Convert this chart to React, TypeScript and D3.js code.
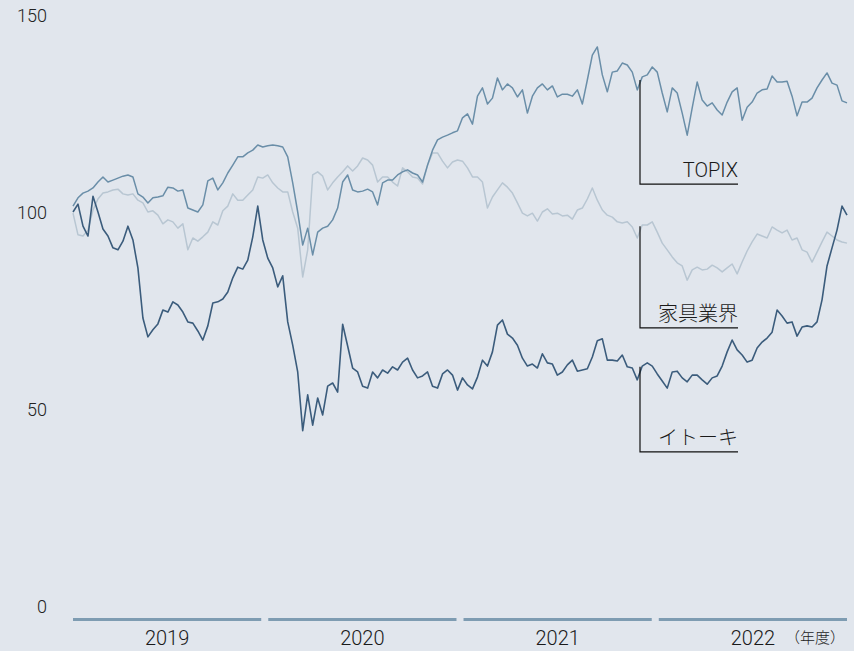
import * as d3 from 'd3';

const years = ['2019', '2020', '2021', '2022'];
const yTicks = [0, 50, 100, 150];

// weekly-ish index values, fiscal 2019 (Apr) to fiscal 2022 (Mar), start = 100
const topix = [
  101.5, 103.6, 104.8, 105.3, 106.1, 107.6, 108.9, 107.6, 108.1, 108.6,
  109.1, 109.4, 108.9, 104.6, 103.8, 102.3, 103.6, 103.8, 104.1, 106.3,
  106.1, 105.3, 105.6, 101.0, 100.5, 100.0, 101.8, 107.9, 108.6, 105.6,
  107.4, 109.9, 111.9, 114.0, 114.0, 115.0, 115.7, 117.0, 116.5, 116.8,
  117.0, 116.8, 116.5, 114.0, 107.4, 100.0, 91.6, 95.9, 89.1, 94.9,
  95.9, 96.4, 98.0, 101.0, 107.6, 109.4, 105.6, 105.1, 105.3, 105.8,
  105.1, 101.8, 107.4, 108.1, 108.1, 109.4, 110.2, 110.7, 109.9, 109.4,
  107.6, 111.9, 115.7, 118.3, 119.0, 119.5, 120.1, 120.6, 123.9, 124.9,
  122.3, 129.4, 131.5, 127.4, 128.9, 134.0, 131.0, 132.5, 131.5, 129.2,
  131.0, 125.1, 129.4, 131.5, 132.5, 131.0, 132.0, 129.2, 129.9, 129.9,
  129.4, 131.0, 127.4, 133.5, 139.8, 141.9, 134.8, 130.5, 135.5, 135.8,
  137.8, 137.3, 135.5, 131.0, 134.3, 134.8, 136.8, 135.5, 130.2, 125.4,
  131.5, 130.2, 125.1, 119.5, 126.4, 133.0, 128.4, 126.9, 127.7, 125.9,
  124.6, 127.9, 130.5, 131.5, 123.3, 126.6, 127.9, 130.2, 131.0, 131.2,
  134.5, 133.0, 133.0, 133.2, 129.4, 124.4, 127.9, 127.9, 128.9, 131.5,
  133.5, 135.3, 132.7, 132.2, 128.2, 127.7,
];

const furniture = [
  99.7, 94.2, 93.9, 95.4, 100.5, 103.3, 104.8, 105.1, 105.6, 105.8,
  104.6, 104.3, 104.6, 103.0, 102.3, 100.0, 100.3, 99.2, 97.0, 98.0,
  97.5, 95.9, 97.0, 90.4, 93.4, 92.6, 93.7, 94.9, 97.5, 96.7,
  100.3, 101.5, 104.6, 103.0, 103.0, 104.3, 105.6, 108.9, 108.6, 109.4,
  107.4, 106.1, 105.1, 105.1, 100.0, 95.9, 83.5, 90.4, 109.4, 110.2,
  109.1, 105.6, 107.4, 108.9, 110.2, 111.7, 110.4, 111.7, 113.7, 113.2,
  111.9, 107.6, 108.9, 108.9, 107.6, 106.6, 111.2, 110.2, 108.9, 108.6,
  107.1, 111.9, 115.0, 115.0, 112.9, 111.2, 112.7, 113.2, 112.9, 111.2,
  108.9, 108.9, 107.6, 101.0, 103.8, 105.6, 107.4, 106.3, 104.8, 102.3,
  99.7, 99.0, 99.7, 97.7, 100.0, 100.8, 99.5, 99.7, 99.0, 99.2,
  98.2, 100.5, 101.0, 103.3, 106.1, 103.0, 100.5, 99.2, 98.7, 97.5,
  97.2, 97.5, 96.2, 93.4, 96.7, 96.7, 97.5, 94.9, 92.1, 90.4,
  88.6, 87.1, 86.3, 82.7, 85.3, 86.0, 85.3, 85.5, 86.5, 85.8,
  84.8, 85.8, 86.8, 84.3, 87.3, 90.1, 92.4, 94.4, 93.9, 93.4,
  96.2, 95.4, 94.7, 95.4, 92.9, 93.4, 90.4, 89.8, 87.3, 89.8,
  92.4, 94.9, 93.9, 92.9, 92.4, 92.1,
];

const itoki = [
  100.0, 102.0, 96.4, 93.9, 104.0, 100.0, 95.7, 93.9, 90.9, 90.4,
  92.6, 96.4, 92.9, 85.8, 73.1, 68.3, 70.1, 71.6, 75.1, 74.6,
  77.2, 76.4, 74.6, 72.1, 71.8, 69.8, 67.5, 71.1, 76.9, 77.2,
  77.9, 79.7, 83.3, 86.0, 85.5, 87.8, 93.7, 101.5, 92.9, 88.3,
  85.8, 81.0, 83.8, 72.1, 66.2, 59.4, 44.5, 53.6, 45.9, 52.8,
  48.5, 55.8, 56.6, 54.3, 71.5, 66.0, 60.4, 59.4, 55.8, 55.3,
  59.4, 57.9, 59.9, 59.1, 60.7, 59.9, 61.9, 62.9, 59.9, 57.9,
  58.4, 59.4, 55.8, 55.3, 58.9, 59.9, 58.6, 54.8, 57.9, 56.1,
  55.1, 58.1, 62.4, 60.9, 64.5, 71.3, 72.6, 69.0, 68.0, 66.2,
  62.9, 60.9, 61.4, 60.4, 64.0, 61.7, 61.4, 58.6, 59.4, 61.2,
  62.4, 59.6, 59.9, 60.2, 63.2, 67.3, 67.8, 62.4, 62.4, 62.2,
  63.7, 60.7, 60.4, 57.4, 60.9, 61.7, 60.9, 58.9, 57.1, 55.3,
  59.4, 59.6, 57.9, 56.9, 58.6, 58.6, 57.4, 56.3, 57.9, 58.4,
  60.9, 64.5, 67.5, 65.0, 63.7, 61.9, 62.4, 65.5, 67.0, 68.0,
  69.5, 75.1, 73.6, 71.8, 72.1, 68.5, 70.8, 71.1, 70.8, 72.1,
  77.7, 86.3, 90.9, 95.4, 101.5, 99.2,
];

const W = 854;
const H = 651;
const left = 73;
const right = 847;
const font = "Roboto, 'Noto Sans CJK JP', sans-serif";

// top/bottom: where each label bracket starts and ends, in index units
const series = [
  { name: '家具業界', values: furniture, color: '#b8c6d2', width: 1.5, top: 96.4, bottom: 70.6 },
  { name: 'TOPIX', values: topix, color: '#6a8ea8', width: 1.5, top: 133.5, bottom: 107.1 },
  { name: 'イトーキ', values: itoki, color: '#3b5c7c', width: 1.6, top: 60.7, bottom: 39.1 },
];

export default function App() {
  const y = d3.scaleLinear().domain([0, 150]).range([606, 15]);
  const band = d3.scaleBand().domain(years).range([left, right]).paddingInner(0.036);

  return (
    <>
      <style>{'body{margin:0}'}</style>
      <svg width={W} height={H} style={{ display: 'block', background: '#e1e6ed' }} fontFamily={font}>
        {/* y labels */}
        {yTicks.map((t) => (
          <text
            key={t}
            x={47}
            y={y(t)}
            textAnchor="end"
            dominantBaseline="central"
            fontSize={18}
            fontWeight={300}
            fill="#222"
          >
            {t}
          </text>
        ))}

        {/* lines */}
        {series.map((s) => {
          const x = d3.scaleLinear().domain([0, s.values.length - 1]).range([left, right]);
          const line = d3
            .line<number>()
            .x((_, i) => x(i))
            .y((d) => y(d));
          return (
            <path
              key={s.name}
              d={line(s.values) ?? ''}
              fill="none"
              stroke={s.color}
              strokeWidth={s.width}
              strokeLinejoin="round"
            />
          );
        })}

        {/* label brackets */}
        {series.map((s) => (
          <g key={s.name + '-label'}>
            <path
              d={`M640,${y(s.top)}V${y(s.bottom)}H738`}
              fill="none"
              stroke="#111"
              strokeWidth={1.2}
            />
            <text x={738} y={y(s.bottom) - 7} textAnchor="end" fontSize={20} fontWeight={300} fill="#1a1a1a">
              {s.name}
            </text>
          </g>
        ))}

        {/* year bands */}
        {years.map((yr) => (
          <g key={yr}>
            <rect x={band(yr)} y={618} width={band.bandwidth()} height={3} fill="#7e9cb2" />
            <text
              x={band(yr)! + band.bandwidth() / 2}
              y={645}
              textAnchor="middle"
              fontSize={20}
              fontWeight={300}
              fill="#1a1a1a"
            >
              {yr}
            </text>
          </g>
        ))}
        <text x={845} y={643} textAnchor="end" fontSize={15} fontWeight={300} fill="#222">
          （年度）
        </text>
      </svg>
    </>
  );
}
